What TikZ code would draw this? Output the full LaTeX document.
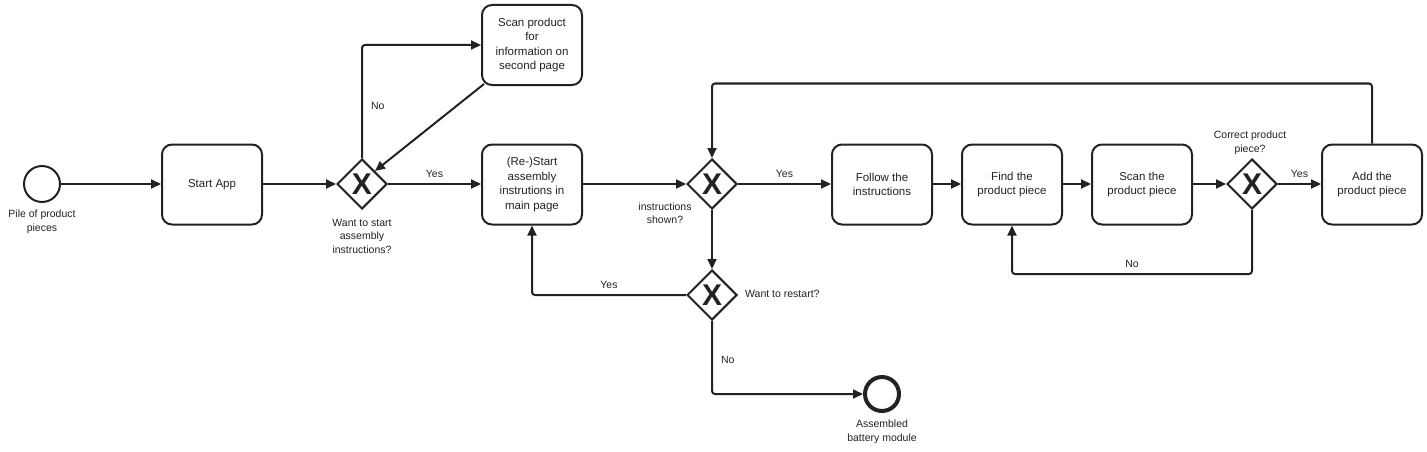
\documentclass[tikz,border=0pt]{standalone}
\usepackage{fontspec}
\setmainfont{Liberation Sans}
\usetikzlibrary{arrows.meta,shapes.geometric}
\definecolor{ink}{HTML}{222222}
\begin{document}
\begin{tikzpicture}[x=1pt,y=-1pt,
  every node/.style={text=ink},
  task/.style={draw=ink,line width=2pt,rounded corners=10pt,minimum width=100pt,minimum height=80pt,align=center,font=\fontsize{11.5}{14.5}\selectfont,inner sep=2pt},
  gate/.style={draw=ink,line width=2pt,diamond,minimum width=50pt,minimum height=50pt,inner sep=0pt,font=\fontsize{30}{30}\selectfont\bfseries},
  startev/.style={draw=ink,line width=2pt,circle,minimum size=36pt,inner sep=0pt},
  endev/.style={draw=ink,line width=4pt,circle,minimum size=34pt,inner sep=0pt},
  lbl/.style={font=\fontsize{10.5}{13.5}\selectfont,align=center,inner sep=0pt},
  flow/.style={draw=ink,line width=2pt,rounded corners=3pt,-{Triangle[length=10pt,width=9pt]}}
]
\useasboundingbox (0,0) rectangle (1427,452);
\node[startev] (s) at (42,184) {};
\node[task] (app) at (212,184.5) {Start App};
\node[gate] (g1) at (362,184) {X};
\node[task] (scan) at (532,45) {Scan product\\for\\information on\\second page};
\node[task] (rs) at (532,184.5) {(Re-)Start\\assembly\\instrutions in\\main page};
\node[gate] (g2) at (712,184) {X};
\node[task] (fol) at (882,184.5) {Follow the\\instructions};
\node[task] (find) at (1012,184.5) {Find the\\product piece};
\node[task] (scp) at (1142,184.5) {Scan the\\product piece};
\node[gate] (g3) at (1252,184) {X};
\node[task] (add) at (1372,184.5) {Add the\\product piece};
\node[gate] (g4) at (712,295) {X};
\node[endev] (e) at (882,394) {};

\node[lbl] (ls) at (42,222) {Pile of product\\pieces};
\node[lbl] (lg1) at (362,236) {Want to start\\assembly\\instructions?};
\node[lbl] (lg2) at (665,213) {instructions\\shown?};
\node[lbl,anchor=west] (lg4) at (745,294) {Want to restart?};
\node[lbl] (lg3) at (1250,143) {Correct product\\piece?};
\node[lbl] (le) at (882,432) {Assembled\\battery module};

\path[flow] (s.east) -- (s.east -| app.west);
\path[flow] (app.east |- g1) -- (g1.west);
\path[flow] (g1.north) |- (scan.west) node[lbl,pos=0.23,right=8pt] {No};
\path[flow] (scan.south west) ++(3,-2) coordinate (sa) (sa) -- (g1.north east);
\path[flow] (g1.east) -- (g1.east -| rs.west) node[lbl,midway,above=5pt] {Yes};
\path[flow] (rs.east |- g2) -- (g2.west);
\path[flow] (g2.east) -- (g2.east -| fol.west) node[lbl,midway,above=5pt] {Yes};
\path[flow] (fol.east |- g2) -- (find.west |- g2);
\path[flow] (find.east |- g2) -- (scp.west |- g2);
\path[flow] (scp.east |- g3) -- (g3.west);
\path[flow] (g3.east) -- (g3.east -| add.west) node[lbl,midway,above=5pt] {Yes};
\path[flow] (add.north) -- ++(0,-60) -| (g2.north);
\path[flow] (g3.south) -- ++(0,64) -| (find.south) node[lbl,pos=0.25,above=5pt] {No};
\path[flow] (g2) -- (g4);
\path[flow] (g4.west) -| (rs.south) node[lbl,pos=0.25,above=5pt] {Yes};
\path[flow] (g4.south) |- (e.west) node[lbl,pos=0.27,right=8pt] {No};
\end{tikzpicture}
\end{document}
